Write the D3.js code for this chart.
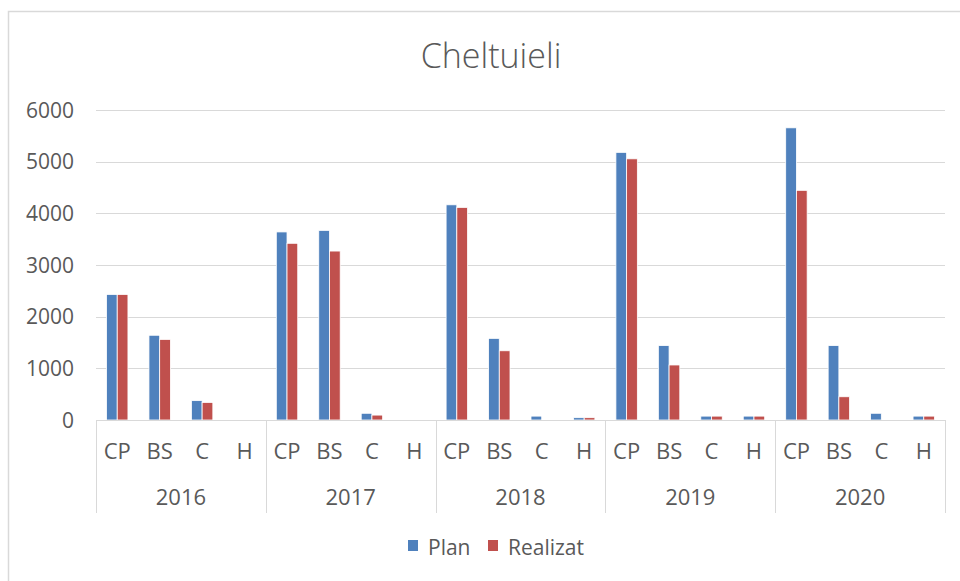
<!DOCTYPE html>
<html>
<head>
<meta charset="utf-8">
<script src="https://cdn.jsdelivr.net/npm/d3@7"></script>
<style>
  body { margin: 0; background: #fff; }
  text { font-family: "Open Sans", "Noto Sans", sans-serif; fill: #595959; }
</style>
</head>
<body>
<div id="chart"></div>
<script>
  var years = ["2016", "2017", "2018", "2019", "2020"];
  var cats = ["CP", "BS", "C", "H"];
  var series = ["Plan", "Realizat"];
  var colors = ["#4f81bd", "#c0504d"];
  // values per year, in cats order
  var plan = [
    [2430, 1640, 375, 0],
    [3640, 3670, 130, 0],
    [4165, 1580, 75, 45],
    [5180, 1440, 75, 75],
    [5655, 1440, 130, 75]
  ];
  var realizat = [
    [2430, 1560, 340, 0],
    [3420, 3270, 95, 0],
    [4115, 1340, 0, 45],
    [5055, 1065, 75, 75],
    [4445, 450, 0, 75]
  ];
  var yTicks = [0, 1000, 2000, 3000, 4000, 5000, 6000];

  var W = 960, H = 581;
  var plotLeft = 96, plotRight = 945, plotTop = 110, zero = 420;

  var svg = d3.select("#chart").append("svg")
    .attr("width", W).attr("height", H);

  // chart frame
  svg.append("rect")
    .attr("x", 8.5).attr("y", 11.5)
    .attr("width", 970).attr("height", 600)
    .attr("fill", "#fff").attr("stroke", "#d9d9d9").attr("stroke-width", 1.5);

  svg.append("text")
    .attr("x", 491).attr("y", 68)
    .attr("text-anchor", "middle")
    .style("font-size", "34px").style("font-weight", 300)
    .text("Cheltuieli");

  var y = d3.scaleLinear().domain([0, 6000]).range([zero, plotTop]);
  var x0 = d3.scaleBand().domain(years).range([plotLeft, plotRight]);
  var x1 = d3.scaleBand().domain(cats).range([0, x0.bandwidth()]);
  var x2 = d3.scaleBand().domain(series).range([0, x1.bandwidth()]).paddingOuter(0.98);

  // gridlines
  svg.append("g").selectAll("line").data(yTicks.slice(1)).enter()
    .append("line")
    .attr("x1", plotLeft).attr("x2", plotRight)
    .attr("y1", function(d) { return Math.round(y(d)) + 0.5; })
    .attr("y2", function(d) { return Math.round(y(d)) + 0.5; })
    .attr("stroke", "#d9d9d9").attr("stroke-width", 1);

  // y labels
  svg.append("g").selectAll("text").data(yTicks).enter()
    .append("text")
    .attr("x", 74).attr("y", function(d) { return y(d) + 7.5; })
    .attr("text-anchor", "end")
    .style("font-size", "21px")
    .text(function(d) { return d; });

  // bars
  var rows = [];
  years.forEach(function(yr, i) {
    cats.forEach(function(c, j) {
      rows.push({yr: yr, cat: c, s: 0, v: plan[i][j]});
      rows.push({yr: yr, cat: c, s: 1, v: realizat[i][j]});
    });
  });
  svg.append("g").selectAll("rect").data(rows.filter(function(d) { return d.v > 0; })).enter()
    .append("rect")
    .attr("x", function(d) { return x0(d.yr) + x1(d.cat) + x2(series[d.s]); })
    .attr("width", x2.bandwidth())
    .attr("y", function(d) { return y(d.v); })
    .attr("height", function(d) { return zero - y(d.v); })
    .attr("fill", function(d) { return colors[d.s]; })
    .attr("stroke", "#fff").attr("stroke-width", 0.8);

  // category axis
  svg.append("line")
    .attr("x1", plotLeft).attr("x2", plotRight)
    .attr("y1", zero + 0.5).attr("y2", zero + 0.5)
    .attr("stroke", "#d9d9d9");
  var seps = years.map(function(d) { return x0(d); }).concat([plotRight]);
  svg.append("g").selectAll("line").data(seps).enter()
    .append("line")
    .attr("x1", function(d) { return Math.round(d) + 0.5; })
    .attr("x2", function(d) { return Math.round(d) + 0.5; })
    .attr("y1", zero).attr("y2", 513)
    .attr("stroke", "#d9d9d9");

  var catLabels = [];
  years.forEach(function(yr) {
    cats.forEach(function(c) { catLabels.push({yr: yr, cat: c}); });
  });
  svg.append("g").selectAll("text").data(catLabels).enter()
    .append("text")
    .attr("x", function(d) { return x0(d.yr) + x1(d.cat) + x1.bandwidth() / 2; })
    .attr("y", 459)
    .attr("text-anchor", "middle")
    .style("font-size", "22px")
    .text(function(d) { return d.cat; });

  svg.append("g").selectAll("text").data(years).enter()
    .append("text")
    .attr("x", function(d) { return x0(d) + x0.bandwidth() / 2; })
    .attr("y", 505)
    .attr("text-anchor", "middle")
    .style("font-size", "22px")
    .text(function(d) { return d; });

  // legend
  var legX = [408, 488];
  var leg = svg.append("g").selectAll("g").data(series).enter()
    .append("g")
    .attr("transform", function(d, i) { return "translate(" + legX[i] + ",540)"; });
  leg.append("rect")
    .attr("width", 10).attr("height", 11)
    .attr("fill", function(d, i) { return colors[i]; });
  leg.append("text")
    .attr("x", 20).attr("y", 15)
    .style("font-size", "21px")
    .text(function(d) { return d; });
</script>
</body>
</html>
